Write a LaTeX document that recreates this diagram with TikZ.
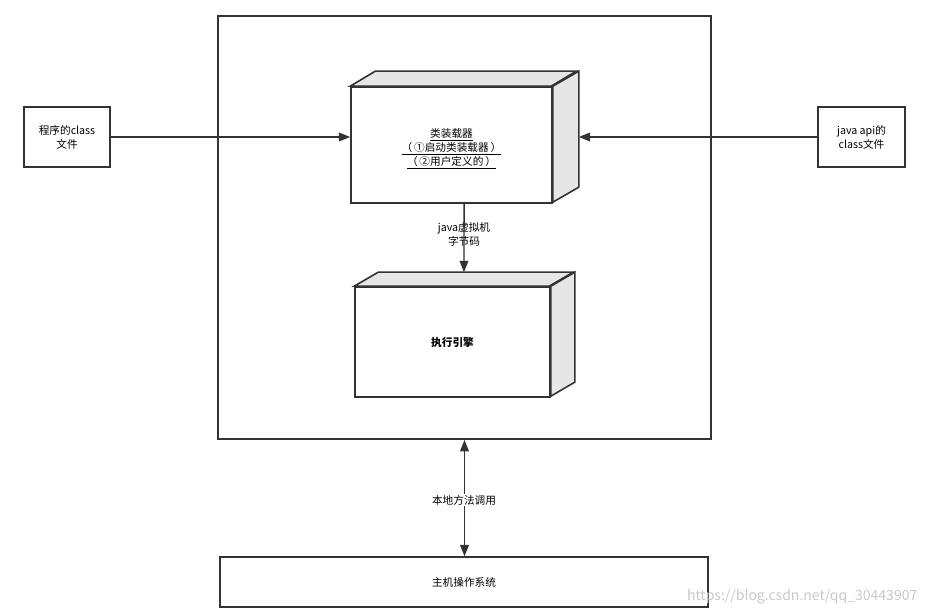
\documentclass[tikz,border=0pt]{standalone}
\usepackage{fontspec}
\usepackage{xcolor}
\usepackage{tikz}
\usetikzlibrary{arrows.meta}
\newfontfamily\cjk{Noto Sans CJK SC}
\definecolor{jvmink}{HTML}{333333}
\definecolor{jvmface}{HTML}{E6E6E6}
\definecolor{jvmmark}{HTML}{C8C8C8}
\tikzset{
  block/.style={draw=jvmink, line width=1.1pt, fill=white, align=center, inner sep=0pt},
  frontface/.style={block, line width=1.2pt},
  sideface/.style={draw=jvmink, line width=1.2pt, fill=jvmface, line join=miter},
  bus/.style={-{Triangle[length=8.5pt,width=6.5pt]}, draw=jvmink, line width=1.1pt},
  dbus/.style={{Triangle[length=8.5pt,width=6.5pt]}-{Triangle[length=8.5pt,width=6.5pt]}, draw=jvmink, line width=1.1pt},
  lbl/.style={align=center, inner sep=1pt}
}

\begin{document}
\begin{tikzpicture}[x=0.75pt, y=-0.75pt, font=\cjk\fontsize{8}{10.5}\selectfont]
  \useasboundingbox (0,0) rectangle (931,616);

  % jvm frame and host system
  \node[block, line width=1.4pt, minimum width=369.75pt, minimum height=317.25pt] (frame) at (464.5,227.5) {};
  \node[block, minimum width=366pt, minimum height=37.5pt] (os) at (464,582) {主机操作系统};

  % class file sources
  \node[block, minimum width=64.5pt, minimum height=45pt] (src) at (67,137) {程序的class\\文件};
  \node[block, minimum width=65.25pt, minimum height=45pt] (api) at (861.5,137) {java api的\\class文件};

  % class loader (3d box)
  \node[frontface, minimum width=150.75pt, minimum height=87pt] (loader) at (451.5,145) {};
  \draw[sideface] (loader.north west) -- ++(25,-15) -- ++(201,0) -- ++(-25,15) -- cycle;
  \draw[sideface] (loader.north east) -- ++(26,-15) -- ++(0,116) -- ++(-26,15) -- cycle;
  \node[lbl] (loadertext) at ([yshift=-3pt]loader.center) {\underline{类装载器}\\\underline{（\,①启动类装载器\,）}\\\underline{（\,②用户定义的\,）}};

  % execution engine (3d box)
  \node[frontface, minimum width=146.25pt, minimum height=82.5pt] (engine) at (452.5,342) {};
  \draw[sideface] (engine.north west) -- ++(24,-14) -- ++(195,0) -- ++(-24,14) -- cycle;
  \draw[sideface] (engine.north east) -- ++(24,-14) -- ++(0,110) -- ++(-24,14) -- cycle;
  \node[lbl, font=\cjk\fontsize{8}{10.5}\selectfont\bfseries] (enginetext) at (engine.center) {执行引擎};

  % connectors
  \draw[bus] (src.east) -- ([yshift=6pt]loader.west);
  \draw[bus] (api.west) -- ([xshift=19.5pt,yshift=6pt]loader.east);
  \node[lbl] (bytecode) at (464,234) {java虚拟机\\字节码};
  \draw[bus] ([xshift=9.4pt]loader.south) -- ([xshift=8.6pt,yshift=10.5pt]engine.north);
  \draw[dbus] (frame.south) -- (frame.south |- os.north);
  \node[lbl, fill=white] (native) at (464,500) {本地方法调用};

  % watermark
  \node[anchor=east, text=jvmmark, font=\cjk\fontsize{10.5}{12}\selectfont] (mark) at (922,597) {https://blog.csdn.net/qq\_30443907};
\end{tikzpicture}
\end{document}
